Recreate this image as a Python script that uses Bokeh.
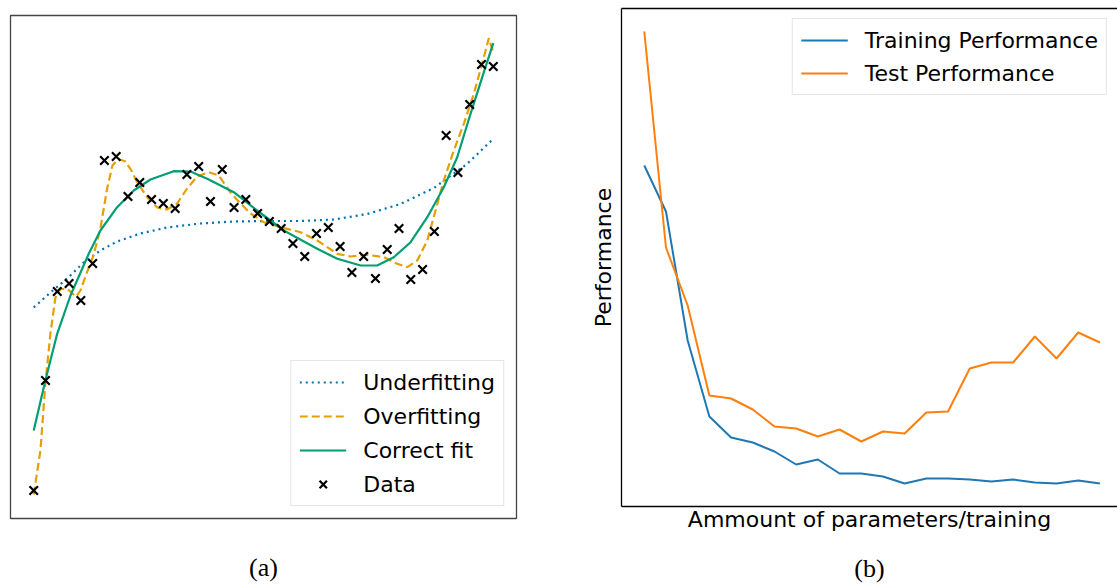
from bokeh.plotting import figure
from bokeh.models import FixedTicker, LinearAxis, Legend, LegendItem, Range1d
from bokeh.layouts import row
from bokeh.embed import file_html
from bokeh.resources import INLINE

# ---------------- Panel (a): fits ----------------
data_x = list(range(40))
data_y = [0.10, 1.20, 2.09, 2.17, 2.00, 2.37, 3.40, 3.44, 3.04, 3.18,
          3.01, 2.97, 2.92, 3.26, 3.34, 2.99, 3.31, 2.93, 3.01, 2.87,
          2.79, 2.72, 2.57, 2.44, 2.67, 2.73, 2.54, 2.28, 2.44, 2.22,
          2.51, 2.72, 2.21, 2.31, 2.69, 3.65, 3.28, 3.96, 4.36, 4.34]

under_x = [0, 1.42, 2.84, 4.24, 5.66, 7.08, 9.05, 11.32, 14.15, 16.98,
           19.81, 22.64, 25.47, 28.30, 31.13, 33.96, 36.79, 39.0]
under_y = [1.93, 2.08, 2.22, 2.38, 2.50, 2.59, 2.67, 2.73, 2.77, 2.79,
           2.795, 2.795, 2.81, 2.865, 2.965, 3.125, 3.367, 3.617]

over_x = [0, 0.57, 0.99, 1.42, 1.84, 2.27, 2.84, 3.29, 3.62, 3.96,
          4.64, 5.07, 5.66, 6.23, 6.68, 7.19, 7.78, 8.29, 8.78, 9.63,
          10.48, 11.32, 12.17, 13.02, 13.87, 14.86, 15.70, 16.70, 17.55, 18.40,
          19.52, 20.94, 22.64, 24.06, 25.76, 26.88, 28.30, 29.71, 30.85, 31.70,
          32.55, 33.40, 34.10, 34.80, 35.65, 36.50, 37.35, 38.20, 38.62, 39.0]
over_y = [0.06, 0.50, 1.17, 1.67, 2.03, 2.115, 2.115, 2.07, 2.04, 2.10,
          2.32, 2.45, 2.72, 3.12, 3.35, 3.415, 3.39, 3.30, 3.183, 3.033,
          2.93, 2.91, 2.97, 3.12, 3.24, 3.283, 3.25, 3.08, 2.97, 2.87,
          2.783, 2.733, 2.683, 2.60, 2.467, 2.44, 2.457, 2.433, 2.367, 2.333,
          2.40, 2.60, 2.90, 3.20, 3.50, 3.767, 4.067, 4.433, 4.623, 4.48]

correct_x = [0, 0.99, 1.99, 3.12, 4.67, 5.66, 7.08, 8.49, 9.91, 11.88,
             13.30, 14.72, 16.98, 18.96, 20.09, 21.22, 24.06, 25.76, 27.74, 29.15,
             30.56, 31.98, 33.40, 34.80, 35.94, 37.07, 38.20, 39.0]
correct_y = [0.70, 1.20, 1.667, 2.05, 2.467, 2.70, 2.933, 3.10, 3.21, 3.293,
             3.29, 3.217, 3.083, 2.90, 2.80, 2.70, 2.517, 2.417, 2.35, 2.35,
             2.433, 2.583, 2.833, 3.133, 3.433, 3.867, 4.283, 4.573]

fit_labels = ["Underfitting", "Overfitting", "Correct fit", "Data"]

# ---------------- Panel (b): performance ----------------
perf_x = list(range(22))
train_perf = [3.41, 2.95, 1.66, 0.90, 0.69, 0.64, 0.55, 0.42, 0.47, 0.33, 0.33,
              0.30, 0.23, 0.28, 0.28, 0.27, 0.25, 0.27, 0.24, 0.23, 0.26, 0.23]
test_perf = [4.75, 2.59, 2.01, 1.11, 1.08, 0.97, 0.80, 0.78, 0.70, 0.77, 0.65,
             0.75, 0.73, 0.94, 0.95, 1.38, 1.44, 1.44, 1.70, 1.48, 1.74, 1.64]
perf_labels = ["Training Performance", "Test Performance"]

SANS = "DejaVu Sans"
SERIF = "Liberation Serif"


def bare(ax, label, font, size, standoff, line="black", lw=1.3):
    ax.ticker = FixedTicker(ticks=[])
    ax.axis_line_color = line
    ax.axis_line_width = lw
    ax.major_tick_line_color = None
    ax.minor_tick_line_color = None
    ax.major_tick_out = 0
    ax.minor_tick_out = 0
    ax.major_tick_in = 0
    ax.minor_tick_in = 0
    ax.major_label_standoff = 0
    ax.major_label_text_font_size = "0px"
    if label:
        ax.axis_label = label
        ax.axis_label_text_font = font
        ax.axis_label_text_font_size = size
        ax.axis_label_text_font_style = "normal"
        ax.axis_label_text_color = "black"
        ax.axis_label_standoff = standoff


# ----- figure (a) -----
p1 = figure(width=580, height=586, x_range=Range1d(-1.97, 40.97), y_range=Range1d(-0.18, 4.85),
            output_backend="svg", toolbar_location=None, y_axis_location=None,
            min_border_left=10, min_border_right=64, min_border_top=15, min_border_bottom=68,
            frame_align=False)
p1.grid.visible = False
p1.outline_line_color = "#444444"
p1.outline_line_width = 1.3
bare(p1.xaxis[0], "(a)", SERIF, "26px", 34, line=None)

r_u = p1.line(under_x, under_y, line_color="#0173B2", line_width=2.2, line_dash="2 4")
r_o = p1.line(over_x, over_y, line_color="#E69F00", line_width=2.2, line_dash="8 4")
r_c = p1.line(correct_x, correct_y, line_color="#029E73", line_width=2.2)
r_d = p1.scatter(data_x, data_y, marker="x", size=12, line_color="black", line_width=2.2)

leg1 = Legend(items=[LegendItem(label=fit_labels[0], renderers=[r_u]),
                     LegendItem(label=fit_labels[1], renderers=[r_o]),
                     LegendItem(label=fit_labels[2], renderers=[r_c]),
                     LegendItem(label=fit_labels[3], renderers=[r_d])],
              location="bottom_right", margin=12, padding=8, spacing=8,
              glyph_width=47, glyph_height=26, label_height=26, label_standoff=17,
              label_text_font=SANS, label_text_font_size="22px", label_text_color="black",
              border_line_color="#cccccc", border_line_width=1, background_fill_alpha=0.8)
p1.add_layout(leg1)

# ----- figure (b) -----
p2 = figure(width=537, height=586, x_range=Range1d(-1.05, 21.81), y_range=Range1d(0, 4.98),
            output_backend="svg", toolbar_location=None,
            min_border_left=41, min_border_right=0, min_border_top=8, min_border_bottom=80,
            frame_align=False)
p2.grid.visible = False
p2.outline_line_color = None

bare(p2.xaxis[0], "Ammount of parameters/training", SANS, "22px", 0)
bare(p2.yaxis[0], "Performance", SANS, "22px", 6)
top_ax = LinearAxis()
bare(top_ax, None, SANS, "22px", 0)
p2.add_layout(top_ax, "above")
cap_b = LinearAxis()
bare(cap_b, "(b)", SERIF, "26px", 19, line=None)
p2.add_layout(cap_b, "below")

r_tr = p2.line(perf_x, train_perf, line_color="#1f77b4", line_width=2)
r_te = p2.line(perf_x, test_perf, line_color="#ff7f0e", line_width=2)
leg2 = Legend(items=[LegendItem(label=perf_labels[0], renderers=[r_tr]),
                     LegendItem(label=perf_labels[1], renderers=[r_te])],
              location="top_right", margin=10, padding=8, spacing=7,
              glyph_width=47, glyph_height=26, label_height=26, label_standoff=17,
              label_text_font=SANS, label_text_font_size="22px", label_text_color="black",
              border_line_color="#cccccc", border_line_width=1, background_fill_alpha=0.8)
p2.add_layout(leg2)

layout = row(p1, p2)
open("out.html", "w").write(file_html(layout, INLINE))
